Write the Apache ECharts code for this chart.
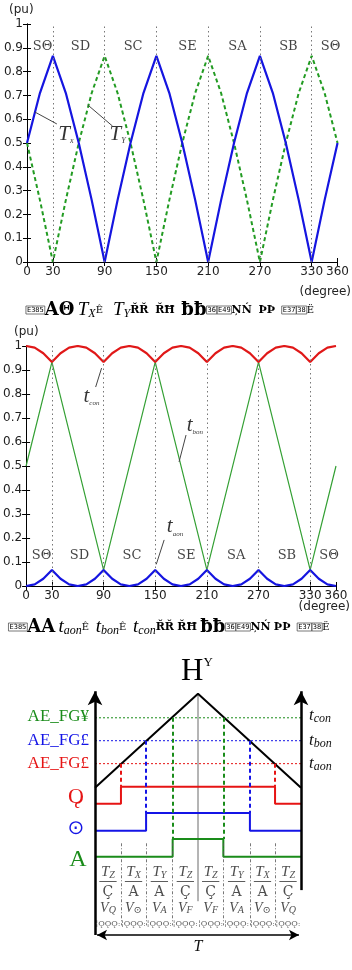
<!DOCTYPE html>
<html><head><meta charset="utf-8">
<script src="https://cdn.jsdelivr.net/npm/echarts@6/dist/echarts.min.js"></script>
<style>html,body{margin:0;padding:0;background:#fff}#c{width:352px;height:970px}</style>
</head><body><div id="c"></div>
<script>
// ---------- data ----------
const degTicks = [0, 30, 90, 150, 210, 270, 330, 360];
const sectorBounds = [30, 90, 150, 210, 270, 330];
const sectorLabels = ['SΘ', 'SD', 'SC', 'SE', 'SA', 'SB', 'SΘ'];
const sectorPos = [18, 62, 123, 186, 244, 303, 352];

const angle15 = [0,15,30,45,60,75,90,105,120,135,150,165,180,195,210,225,240,255,270,285,300,315,330,345,360];
const Tx = [0.5,0.71,0.866,0.71,0.5,0.26,0,0.26,0.5,0.71,0.866,0.71,0.5,0.26,0,0.26,0.5,0.71,0.866,0.71,0.5,0.26,0,0.26,0.5];
const Ty = [0.5,0.26,0,0.26,0.5,0.71,0.866,0.71,0.5,0.26,0,0.26,0.5,0.71,0.866,0.71,0.5,0.26,0,0.26,0.5,0.71,0.866,0.71,0.5];

const angle10 = [0,10,20,30,40,50,60,70,80,90,100,110,120,130,140,150,160,170,180,190,200,210,220,230,240,250,260,270,280,290,300,310,320,330,340,350,360];
const tcon = [1,0.993,0.97,0.933,0.97,0.993,1,0.993,0.97,0.933,0.97,0.993,1,0.993,0.97,0.933,0.97,0.993,1,0.993,0.97,0.933,0.97,0.993,1,0.993,0.97,0.933,0.97,0.993,1,0.993,0.97,0.933,0.97,0.993,1];
const taon = [0,0.007,0.03,0.067,0.03,0.007,0,0.007,0.03,0.067,0.03,0.007,0,0.007,0.03,0.067,0.03,0.007,0,0.007,0.03,0.067,0.03,0.007,0,0.007,0.03,0.067,0.03,0.007,0,0.007,0.03,0.067,0.03,0.007,0];
const bonAngle = [0, 30, 90, 150, 210, 270, 330, 360];
const tbon = [0.5, 0.933, 0.067, 0.933, 0.067, 0.933, 0.067, 0.5];

// diagram (one carrier period, time normalised 0..1, level units 0..104)
const carrierT = [0, 0.5, 1];
const carrierV = [61, 100, 61];
const levelNames = ['con', 'bon', 'aon'];
const levelVals = [90, 80.5, 71];
const levelColors = ['#1a8c1a', '#1414e6', '#e61414'];
const pulseOn = [0.377, 0.248, 0.126];
const pulseOff = [0.623, 0.752, 0.874];
const pulseLow = [32.4, 43.2, 54.4];
const pulseHigh = [39.8, 50.6, 61.4];
const segEdges = [0, 0.126, 0.248, 0.377, 0.5, 0.623, 0.752, 0.874, 1];
const colT = ['Z', 'X', 'Y', 'Z', 'Z', 'Y', 'X', 'Z'];
const colDen = ['Ç', 'A', 'A', 'Ç', 'Ç', 'A', 'A', 'Ç'];
const colV = ['Q', '⊙', 'A', 'F', 'F', 'A', '⊙', 'Q'];

// ---------- helpers ----------
const SANS = 'DejaVu Sans';
const SERIF = 'Liberation Serif, DejaVu Serif, serif';
const zip = (a, b) => a.map((v, i) => [v, b[i]]);
const noLbl = { show: false };

function frameAxes(gi, lblMargin) {
  return {
    x: [
      { gridIndex: gi, type: 'value', min: 0, max: 360, position: 'bottom',
        axisLine: { show: true, lineStyle: { color: '#000', width: 1 } },
        axisTick: { show: true, inside: true, length: 4, customValues: degTicks, lineStyle: { color: '#000' } },
        axisLabel: { customValues: degTicks, margin: 4, fontFamily: SANS, fontSize: 12, color: '#222' },
        splitLine: { show: false } },
      { gridIndex: gi, type: 'value', min: 0, max: 360, position: 'top',
        axisLine: { show: true, lineStyle: { color: '#000', width: 1 } },
        axisTick: { show: true, inside: true, length: 4, customValues: degTicks, lineStyle: { color: '#000' } },
        axisLabel: { show: false }, splitLine: { show: false } }
    ],
    y: [
      { gridIndex: gi, type: 'value', min: 0, max: 1, interval: 0.1, position: 'left',
        axisLine: { show: true, lineStyle: { color: '#000', width: 1 } },
        axisTick: { show: true, inside: true, length: 4, lineStyle: { color: '#000' } },
        axisLabel: { margin: lblMargin, fontFamily: SANS, fontSize: 12, color: '#222' },
        splitLine: { show: false } },
      { gridIndex: gi, type: 'value', min: 0, max: 1, interval: 0.1, position: 'right',
        axisLine: { show: true, lineStyle: { color: '#000', width: 1 } },
        axisTick: { show: true, inside: true, length: 4, lineStyle: { color: '#000' } },
        axisLabel: { show: false }, splitLine: { show: false } }
    ]
  };
}
const a0 = frameAxes(0, 4), a1 = frameAxes(1, 4);

const vDotted = {
  silent: true, symbol: 'none', label: noLbl,
  lineStyle: { type: [1.5, 3], color: '#777', width: 1 },
  data: sectorBounds.map(v => ({ xAxis: v }))
};
function seg(x1, y1, x2, y2) { return [{ coord: [x1, y1] }, { coord: [x2, y2] }]; }

function sectorSeries(xi, yi, yv) {
  return { type: 'scatter', xAxisIndex: xi, yAxisIndex: yi, symbolSize: 0, silent: true,
    data: sectorPos.map((p, i) => ({ value: [p, yv], name: sectorLabels[i] })),
    label: { show: true, position: 'inside', formatter: p => p.name,
      fontFamily: 'DejaVu Serif', fontSize: 13, color: '#111' } };
}
function annot(xi, yi, x, y, main, sub, mainSize, subSize) {
  return { value: [x, y], label: { formatter: '{m|' + main + '}{s|' + sub + '}',
    rich: { m: { fontFamily: SERIF, fontStyle: 'italic', fontSize: mainSize, color: '#000' },
            s: { fontFamily: SERIF, fontStyle: 'italic', fontSize: subSize, color: '#000', verticalAlign: 'bottom', padding: [0,0,0,0] } } } };
}

// ---------- diagram series ----------
const DX = 4, DY = 4;
const diag = [];
// level dotted lines
levelVals.forEach((lv, i) => {
  diag.push({ type: 'line', xAxisIndex: DX, yAxisIndex: DY, symbol: 'none', silent: true,
    data: [[0, lv], [1, lv]], lineStyle: { color: levelColors[i], width: 1, type: [2, 2] } });
});
// separators and centre line
diag.push({ type: 'line', xAxisIndex: DX, yAxisIndex: DY, symbol: 'none', silent: true, data: [],
  markLine: { silent: true, symbol: 'none', label: noLbl, animation: false,
    lineStyle: { color: '#555', width: 0.8, type: [3, 2, 1, 2] },
    data: segEdges.filter((e, i) => i > 0 && i < segEdges.length - 1 && e !== 0.5).map(e => seg(e, 38, e, 4)) } });
diag.push({ type: 'line', xAxisIndex: DX, yAxisIndex: DY, symbol: 'none', silent: true,
  data: [[0.5, 100], [0.5, 14]], lineStyle: { color: '#444', width: 0.8 } });
// dashed crossings
levelVals.forEach((lv, i) => {
  diag.push({ type: 'line', xAxisIndex: DX, yAxisIndex: DY, symbol: 'none', silent: true, data: [],
    markLine: { silent: true, symbol: 'none', label: noLbl, animation: false,
      lineStyle: { color: levelColors[i], width: 2, type: [4, 3] },
      data: [seg(pulseOn[i], lv, pulseOn[i], pulseHigh[i]), seg(pulseOff[i], lv, pulseOff[i], pulseHigh[i])] } });
});
// pulses
levelVals.forEach((lv, i) => {
  diag.push({ type: 'line', xAxisIndex: DX, yAxisIndex: DY, symbol: 'none', silent: true,
    data: [[0, pulseLow[i]], [pulseOn[i], pulseLow[i]], [pulseOn[i], pulseHigh[i]],
           [pulseOff[i], pulseHigh[i]], [pulseOff[i], pulseLow[i]], [1, pulseLow[i]]],
    lineStyle: { color: levelColors[i], width: 2 } });
});
// carrier
diag.push({ type: 'line', xAxisIndex: DX, yAxisIndex: DY, symbol: 'none', silent: true,
  data: zip(carrierT, carrierV), lineStyle: { color: '#000', width: 2 } });
// axes with arrows
diag.push({ type: 'line', xAxisIndex: DX, yAxisIndex: DY, symbol: 'none', silent: true, data: [],
  markLine: { silent: true, label: noLbl, animation: false, symbolSize: [11, 14],
    lineStyle: { color: '#000', width: 2.5, type: 'solid' },
    data: [
      [{ coord: [0, 0], symbol: 'none' }, { coord: [0, 101], symbol: 'arrow' }],
      [{ coord: [1, 18.6], symbol: 'none' }, { coord: [1, 101], symbol: 'arrow' }]
    ] } });
diag.push({ type: 'line', xAxisIndex: DX, yAxisIndex: DY, symbol: 'none', silent: true, data: [],
  markLine: { silent: true, label: noLbl, animation: false, symbolSize: [8, 10],
    lineStyle: { color: '#000', width: 1.5, type: 'solid' },
    data: [[{ coord: [0.01, 0], symbol: 'arrow' }, { coord: [0.99, 0], symbol: 'arrow' }]] } });
// fraction bars
const mids = segEdges.slice(0, -1).map((e, i) => (e + segEdges[i + 1]) / 2);
diag.push({ type: 'line', xAxisIndex: DX, yAxisIndex: DY, symbol: 'none', silent: true, data: [],
  markLine: { silent: true, symbol: 'none', label: noLbl, animation: false,
    lineStyle: { color: '#333', width: 0.8, type: 'solid' },
    data: mids.map(m => seg(m - 0.042, 22.1, m + 0.042, 22.1)) } });
// column labels
const colRich = {
  T: { fontFamily: SERIF, fontStyle: 'italic', fontSize: 15, color: '#222' },
  s: { fontFamily: SERIF, fontStyle: 'italic', fontSize: 10, color: '#222', verticalAlign: 'bottom' },
  d: { fontFamily: 'DejaVu Serif', fontSize: 14, color: '#222' },
  V: { fontFamily: SERIF, fontStyle: 'italic', fontSize: 14, color: '#222' },
  q: { fontFamily: 'DejaVu Serif', fontSize: 8, color: '#333' }
};
diag.push({ type: 'scatter', xAxisIndex: DX, yAxisIndex: DY, symbolSize: 0, silent: true,
  label: { show: true, position: 'inside', rich: colRich },
  data: [].concat(
    mids.map((m, i) => ({ value: [m, 25.9], label: { formatter: '{T|T}{s|' + colT[i] + '}' } })),
    mids.map((m, i) => ({ value: [m, 17.8], label: { formatter: '{d|' + colDen[i] + '}' } })),
    mids.map((m, i) => ({ value: [m, 11.2], label: { formatter: '{V|V}{s|' + colV[i] + '}' } })),
    mids.map((m, i) => ({ value: [m, 4.6], label: { formatter: '{q|¦ǪǪǪː}' } }))
  ) });

// ---------- option ----------
const capRich = {
  bx: { fontSize: 7, fontFamily: 'DejaVu Sans Mono', borderColor: '#555', borderWidth: 0.8, padding: [1, 1, 0, 1], color: '#222' },
  g: { fontSize: 18, fontFamily: 'DejaVu Serif', fontWeight: 'bold', color: '#000' },
  g2: { fontSize: 11, fontFamily: 'DejaVu Serif', fontWeight: 'bold', color: '#111' },
  T: { fontSize: 19, fontStyle: 'italic', fontFamily: SERIF, color: '#000' },
  s: { fontSize: 12, fontStyle: 'italic', fontFamily: SERIF, color: '#000', verticalAlign: 'bottom' },
  e: { fontSize: 10, fontFamily: 'DejaVu Serif', color: '#222' }
};
const cap1 = '{bx|E385}{g|ΑΘ} {T|T}{s|X}{e|Ê}   {T|T}{s|Y}{g2|ŘŘ}  {g2|ŘĦ}  {g|ƀƀ}{bx|36}{bx|E49}{g2|ŅŃ}  {g2|ÞÞ}  {bx|E37}{bx|38}{e|Ë}';
const cap2 = '{bx|E385}{g|AA} {T|t}{s|aon}{e|Ê}  {T|t}{s|bon}{e|Ê}  {T|t}{s|con}{g2|ŘŘ} {g2|ŘĦ} {g|ƀƀ}{bx|36}{bx|E49}{g2|ŅŃ} {g2|ÞÞ}  {bx|E37}{bx|38}{e|Ë}';

const txt = (x, y, text, style) => ({ type: 'text', x, y, silent: true,
  style: Object.assign({ text, fill: '#222', font: '12px ' + SANS }, style) });

const option = {
  animation: false,
  grid: [
    { left: 27, right: 13, top: 24, height: 238 },
    { left: 24, right: 16, top: 346, height: 240 },
    { left: 95, top: 684, width: 206, height: 251 }
  ],
  xAxis: [a0.x[0], a0.x[1], a1.x[0], a1.x[1],
    { gridIndex: 2, type: 'value', min: 0, max: 1, show: false }],
  yAxis: [a0.y[0], a0.y[1], a1.y[0], a1.y[1],
    { gridIndex: 2, type: 'value', min: 0, max: 104, show: false }],
  series: [
    // chart 1
    { type: 'line', xAxisIndex: 0, yAxisIndex: 0, symbol: 'none', data: zip(angle15, Ty),
      lineStyle: { color: '#229b22', width: 2, type: [4, 3] }, markLine: vDotted },
    { type: 'line', xAxisIndex: 0, yAxisIndex: 0, symbol: 'none', data: zip(angle15, Tx),
      lineStyle: { color: '#1515e0', width: 2.2 },
      markLine: { silent: true, symbol: 'none', label: noLbl, lineStyle: { color: '#444', width: 1, type: 'solid' },
        data: [seg(9.2, 0.63, 34.6, 0.58), seg(70.4, 0.66, 99.2, 0.571)] } },
    sectorSeries(0, 0, 0.905),
    { type: 'scatter', xAxisIndex: 0, yAxisIndex: 0, symbolSize: 0, silent: true,
      label: { show: true, position: 'inside' },
      data: [annot(0, 0, 45, 0.535, 'T', 'x', 21, 8), annot(0, 0, 105, 0.535, 'T', 'Y', 21, 8)] },
    // chart 2
    { type: 'line', xAxisIndex: 2, yAxisIndex: 2, symbol: 'none', data: zip(bonAngle, tbon),
      lineStyle: { color: '#34a034', width: 1.2 }, markLine: vDotted },
    { type: 'line', xAxisIndex: 2, yAxisIndex: 2, symbol: 'none', data: zip(angle10, tcon),
      lineStyle: { color: '#e01818', width: 2.2 } },
    { type: 'line', xAxisIndex: 2, yAxisIndex: 2, symbol: 'none', data: zip(angle10, taon),
      lineStyle: { color: '#1515e0', width: 2.2 },
      markLine: { silent: true, symbol: 'none', label: noLbl, lineStyle: { color: '#444', width: 1, type: 'solid' },
        data: [seg(87.7, 0.908, 80.8, 0.829), seg(185.8, 0.629, 177.7, 0.517), seg(160.4, 0.192, 151.2, 0.09)] } },
    sectorSeries(2, 2, 0.125),
    { type: 'scatter', xAxisIndex: 2, yAxisIndex: 2, symbolSize: 0, silent: true,
      label: { show: true, position: 'inside' },
      data: [annot(2, 2, 76, 0.79, 't', 'con', 21, 7), annot(2, 2, 196, 0.67, 't', 'bon', 21, 7),
             annot(2, 2, 173, 0.246, 't', 'aon', 21, 7)] }
  ].concat(diag),
  graphic: [
    txt(9, 4, '(pu)'),
    txt(14, 326, '(pu)'),
    txt(351, 286, '(degree)', { align: 'right' }),
    txt(350, 601, '(degree)', { align: 'right' }),
    { type: 'text', x: 170, y: 310, silent: true, style: { text: cap1, rich: capRich, align: 'center', verticalAlign: 'middle' } },
    { type: 'text', x: 169, y: 627, silent: true, style: { text: cap2, rich: capRich, align: 'center', verticalAlign: 'middle' } },
    // diagram title
    { type: 'text', x: 197, y: 672, silent: true, style: { text: '{h|H}{y|Y}', align: 'center', verticalAlign: 'middle',
      rich: { h: { fontFamily: SERIF, fontSize: 31, fill: '#000' }, y: { fontFamily: SERIF, fontSize: 13, fill: '#000', verticalAlign: 'top' } } } },
    // left level labels
    ...levelVals.map((lv, i) => ({ type: 'text', x: 89, y: [717, 741, 764][i], silent: true,
      style: { text: 'AE_FG' + (i === 0 ? '¥' : '£'), fill: levelColors[i], font: '17px ' + SERIF, align: 'right', verticalAlign: 'middle' } })),
    // pulse labels
    { type: 'text', x: 76, y: 797, silent: true, style: { text: 'Ǫ', fill: levelColors[2], font: '22px ' + SERIF, align: 'center', verticalAlign: 'middle' } },
    { type: 'text', x: 76, y: 829, silent: true, style: { text: '⊙', fill: levelColors[1], font: '20px DejaVu Sans', align: 'center', verticalAlign: 'middle' } },
    { type: 'text', x: 78, y: 860, silent: true, style: { text: 'A', fill: levelColors[0], font: '24px ' + SERIF, align: 'center', verticalAlign: 'middle' } },
    // right labels
    ...levelNames.map((n, i) => ({ type: 'text', x: 309, y: [716, 741, 764][i], silent: true,
      style: { text: '{t|t}{s|' + n + '}', align: 'left', verticalAlign: 'middle',
        rich: { t: { fontFamily: SERIF, fontStyle: 'italic', fontSize: 17, fill: '#111' },
                s: { fontFamily: SERIF, fontStyle: 'italic', fontSize: 12, fill: '#111', verticalAlign: 'bottom' } } } })),
    { type: 'text', x: 198, y: 947, silent: true, style: { text: 'T', font: 'italic 16px ' + SERIF, fill: '#111', align: 'center', verticalAlign: 'middle' } }
  ]
};
const chart = echarts.init(document.getElementById('c'), null, { renderer: 'canvas' });
chart.setOption(option);
</script></body></html>
